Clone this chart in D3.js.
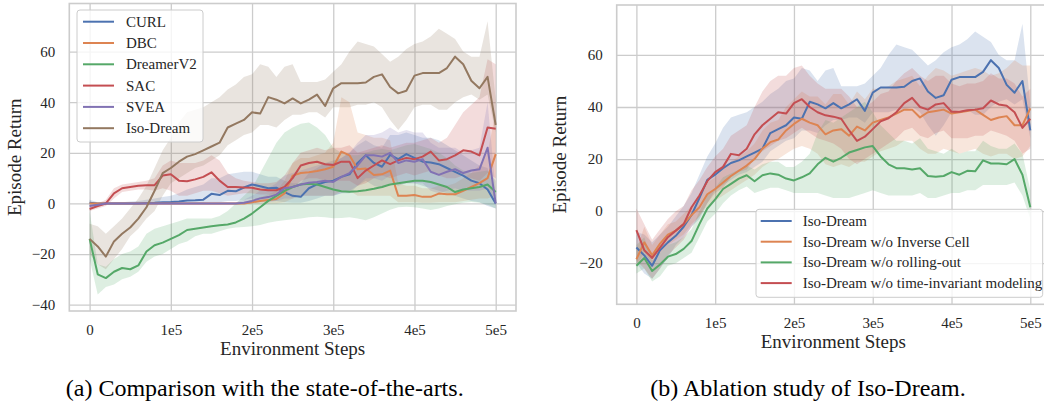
<!DOCTYPE html>
<html>
<head>
<meta charset="utf-8">
<script src="https://cdn.jsdelivr.net/npm/d3@7"></script>
<style>
  body { margin: 0; background: #fff; }
  text { font-family: "Liberation Serif", "Times New Roman", serif; fill: #262626; }
</style>
</head>
<body>
<svg id="chart" width="1044" height="410"></svg>
<script>
// x positions (thousands of environment steps)
const stepsK = [0,10,20,30,40,50,60,70,80,90,100,110,120,130,140,150,160,170,180,190,200,
  210,220,230,240,250,260,270,280,290,300,310,320,330,340,350,360,370,380,390,400,
  410,420,430,440,450,460,470,480,490,500];

const xTicks = [0, 100000, 200000, 300000, 400000, 500000];
const xTickLabels = ["0", "1e5", "2e5", "3e5", "4e5", "5e5"];

// ---- panel (a): comparison ----
const curlMean = [0.3,0,0,0,0,0,0,0.2,0.3,0.5, 0.6,0.8,1.2,1.3,1.5,3.8,3.3,5,4.8,6.3,
  7.5,6.8,6,6.2,4.5,3,2.6,6,7.5,8.5, 9,10.5,11.5,16,19,16,14.5,19.2,17.5,19.5,
  18,16.5,16.2,15.5,14,12.5,11,9,8,5.5, 0];
const curlLo = [-1,-0.5,-0.5,-0.5,-0.5,-0.5,-0.5,-0.5,-0.3,-0.2, -0.2,0,0,0,0.2,0.5,0.5,1,1,1.5,
  2,1.5,1,1,0.5,0.3,0.3,1,2,3, 3,4,4,7,9,7,6,8,7,8,
  8,7,6,5,4,3,2,1,0.5,-1, -2];
const curlHi = [1.5,0.5,0.5,0.5,0.5,0.8,1,1.5,2,2.5, 3,4,5.5,6.5,7.5,10,10,11.5,12,12.5,
  12.5,11.5,10.5,10.5,9,8,8,12,14,16, 17,18,20,23,25,23,22,27,27,28,
  27,26,26,25,23,21,19,17,15,14, 3];

const dbcMean = [0,0,0,0,0,0,0,0,0,0, 0,0,0,0,0,0,0,0,0,0,
  0.5,1,1.4,1.8,4,11,12,12.3,12.8,13.5, 14.5,20.5,19,13.5,13.8,11.2,11.5,13,3,3,
  3.3,2.6,2.6,3.9,3.6,3.6,5,6.5,8,10, 19.5];
const dbcLo = [-0.3,-0.3,-0.3,-0.3,-0.3,-0.3,-0.3,-0.3,-0.3,-0.3, -0.3,-0.3,-0.3,-0.3,-0.3,-0.3,-0.3,-0.3,-0.3,-0.3,
  0,0,0,0,0.5,2,3,3,3,3, 3,5,5,3,3,3,3,3,0.5,0.5,
  0.5,0.3,0.3,0.5,0.5,0.5,1,1.5,2,2, 3];
const dbcHi = [0.3,0.3,0.3,0.3,0.3,0.3,0.3,0.3,0.3,0.3, 0.3,0.3,0.3,0.3,0.3,0.3,0.3,0.3,0.3,0.3,
  1.5,2.5,3.5,5,9,16,18,18,19,20, 24,42,40,28,27,26,26,25,8,7,
  7,6,6,7,7,8,10,12,15,20, 36];

const dreamerMean = [-14,-28,-29.5,-27,-25.5,-26,-24.5,-19,-16.5,-15.5, -14,-12.5,-10.5,-10,-9.5,-9,-8.6,-8.3,-7.5,-6,
  -4,-1.5,1,3,5,6.5,7.5,7.8,7.5,6.5, 5.5,4.8,4.6,4.8,5.2,5.8,6.5,7.5,8,8.5,
  9,9,8.5,7.5,6.5,4.5,5.5,6,6.5,7.5, 4.5];
const dreamerLo = [-22,-36,-33,-32,-30,-29,-27,-23,-21,-20, -18,-16,-15,-13,-12,-12,-11,-10,-9.5,-9.3,
  -9,-8.5,-7.6,-7,-6.6,-6.2,-6,-5.5,-5.3,-5.5, -5.9,-5.8,-5.5,-6,-6.6,-5.5,-4,-2.5,-1.5,-1.3,
  -1.5,-2,-2.6,-2,-1,-0.3,0.3,0.6,0.3,-0.5, -2];
const dreamerHi = [-3,-24,-25,-22,-20,-19,-17,-12,-10,-9, -8,-7,-6,-6,-6,-6,-5,-3,0,3,
  6,12,18,24,28,30,31.5,32,30,27, 22,20,19,19,20,21,21.5,21,22,23,
  23.5,22.5,21.5,20,18,15,13,12,12.5,13, 9];

const sacMean = [-2.2,-1,0,4,6,6.5,7,7.2,7.2,11, 11.5,9,8.8,9.5,10.5,12.3,9,6.5,6.5,6.3,
  6.2,5.5,5.2,5.2,6.5,10,15,16,16.5,15.5, 15.2,16.5,16.5,10,13,15,17,15.5,17,18,
  17.5,18.5,20.5,17,17.5,19,21,20.5,19,30, 29.5];
const sacLo = [-3,-2,-1,2,4.5,5,5.5,5.5,5,6, 5,3,3,4,5,5,4,3,3.5,4,
  4,3.5,3.5,3.5,4,6,9,10,10,9, 9,9,9,7,8,10,11,10,11,12,
  11,12,13,11,10,10,11,10,9,12, 10];
const sacHi = [-1.5,0,1.5,6,7.5,8,8.5,9,10,15, 17,16,16,16,17,19,17,12,10,9,
  8.5,8,8,8.5,11,16,20,21,22,21, 22,22,23,20,21,22,23,22,23,24,
  24,25,26,24,26,31,36,39,42,57, 55];

const sveaMean = [-1,-0.5,0,0,0,0,0,0,0,0, 0,0,0,0,0,0,0,0,0,0.3,
  1,2,2.5,3.5,6,6.5,7.5,8.2,8.5,9, 8.5,10.5,12,15,19,19,18.5,20,16,17,
  16.5,17.5,12.5,11.3,12.5,13.5,12,13,13.5,22, 0];
const sveaLo = [-1.5,-1,-0.5,-0.5,-0.5,-0.5,-0.5,-0.5,-0.5,-0.5, -0.5,-0.5,-0.5,-0.5,-0.5,-0.5,-0.5,-0.5,-0.5,0,
  0,0.5,0.5,1,2,2,3,3,3,3, 3,4,5,7,10,10,9,11,8,8,
  8,8,5,4,5,6,5,5,5,6, -1];
const sveaHi = [-0.5,0,0.5,0.5,0.5,0.5,0.5,0.5,0.5,0.5, 0.5,0.5,0.5,0.5,0.5,0.5,0.5,0.5,0.5,1.5,
  3,5,6,8,11,12,13,14,15,16, 16,18,20,24,27,27,28,30,28,29,
  28,28,24,22,22,22,20,21,22,40, 5];

// Iso-Dream (same run in both panels)
const isoMean = [-14,-17,-21,-15,-12,-9.5,-6,-1.5,5,12, 14,16.5,18.5,19.5,21,22.5,24,30,31.5,33,
  36,35.5,42,41,39.5,41.5,39.5,41,43,38.5, 45.5,47.5,47.5,47.5,47.8,50,51,46,43.5,44.5,
  50.5,51.5,51.5,51.5,53.5,58,55,48.5,45.5,50, 31];
const isoLo = [-20,-24,-26,-22,-18,-13,-10,-6,-3,3, 8,10,12,14,15,17,19,23,25,27,
  28,31,31,30,33,35,35,36,36,34, 38,38,38,39,39,40,38,33,29,33,
  38,39,39,37,37,40,42,43,41,43, 28];
const isoHi = [-8,-9,-12,-9,-6,-2,2,7,14,21, 26,32,36,37,38,40,42,45,47,50,
  51,55,54,50,54,55,48,48,48,49, 52,55,60,64,63,62,59,56,58,61,
  63,64,66,69,67,65,60,58,58,72, 41];

// ---- panel (b): ablation ----
const noInvMean = [-18.5,-12,-17,-12.5,-9,-7.5,-5,-1.5,1.5,6.5, 8.5,11,13.5,15.5,17.5,20,24,26.5,27.5,31,
  33.5,35.5,34,33,29.5,31,31.5,29,32.5,31, 34,35,36,37.5,39,39,36,38,38.5,39,
  37.5,38,38.5,39,37,35,36,36.5,33,33, 39.5];
const noInvLo = [-21,-16,-20,-16,-13,-11,-9,-5,-2,2, 4,6,8,10,12,14,17,19,20,22,
  24,25,24,22,18,17,18,17,19,19, 21,23,24,25,27,27,24,22,22,24,
  23,22,23,24,22,21,22,22,20,21, 25];
const noInvHi = [-15,-6,-13,-9,-5,-4,-1,2,5,11, 13,16,19,21,23,26,31,34,35,40,
  43,46,44,44,41,45,45,41,46,43, 47,47,48,50,51,52,48,52,55,54,
  52,53,54,55,54,52,53,55,58,56, 56];

const noRollMean = [-21,-18,-23,-20.5,-17.5,-16.5,-14.5,-11.5,-5,1, 4.5,8.5,10.5,12.5,13.8,11.5,13.8,14.5,14,12.5,
  11.8,13,14.5,18,20.5,19,20.5,22.5,23.5,24.5, 25,21,18,16.5,16.5,16,16.5,13.5,13.2,13.5,
  15,14,15.5,15.3,19.5,18.3,18.3,18,20,14, 1.5];
const noRollLo = [-24,-22,-27,-25,-21,-20,-18,-16,-10,-4, -1,3,6,8,9.5,7,8,9,9,8,
  7,7,7,7,6,5,5,5,6,7, 8,7,6,6,6,6,7,5,5,6,
  7,7,8,8,10,10,10,10,11,6, -3];
const noRollHi = [-13,-10,-19,-16,-13,-12,-10,-7,0,6, 9,13,14.5,16,17.5,16,18,19,19,17,
  17,19,22,30,35,34,36,38,40,42, 38,33,30,27,27,26,28,24,23,22,
  24,22,23,23,27,25,24,24,26,22, 8];

const noTimeMean = [-7.3,-15,-18,-14,-10,-7.5,-5,1.5,6,11.5, 15,17,22,21.5,24,29.5,33,35.5,38,37.5,
  41.5,43,40,38,36.8,36.3,35.5,31,27,28.6, 31.5,34.5,35.7,38,41.5,43.5,40,39,41,41.5,
  38.2,38.2,38.8,39,39.5,42.5,41,40.5,38,32, 35.5];
const noTimeLo = [-19,-22,-26,-22,-17,-14,-11,-6,-2,3, 7,9,13,15,16,20,23,25,27,28,
  30,32,30,28,27,26,24,20,18,20, 22,24,26,28,31,32,29,28,30,31,
  28,28,28,29,29,31,30,29,27,22, 24];
const noTimeHi = [1,-5,-11,-7,-3,0,2,8,12,17, 21,24,29,31,33,40,46,50,52,52,
  55,56,52,49,47,47,47,44,40,40, 42,45,46,50,53,55,52,50,52,52,
  49,48,49,49,50,53,51,51,49,44, 47];

// seaborn "deep" palette
const C = { blue: "#4c72b0", orange: "#dd8452", green: "#55a868", red: "#c44e52", purple: "#8172b3", brown: "#937860" };

const panels = [
  {
    left: 69.3, right: 516, top: 3.5, bottom: 311,
    yDomain: [-42.5, 79], yTicks: [-40, -20, 0, 20, 40, 60],
    ylabelX: 21, caption: "(a) Comparison with the state-of-the-arts.", capX: 264.7,
    legend: { x: 77, y: 10, w: 126, h: 132, firstY: 21.7, row: 21.3, lineX: 83, textX: 126 },
    series: [
      { name: "CURL", color: C.blue, mean: curlMean, lo: curlLo, hi: curlHi },
      { name: "DBC", color: C.orange, mean: dbcMean, lo: dbcLo, hi: dbcHi },
      { name: "DreamerV2", color: C.green, mean: dreamerMean, lo: dreamerLo, hi: dreamerHi },
      { name: "SAC", color: C.red, mean: sacMean, lo: sacLo, hi: sacHi },
      { name: "SVEA", color: C.purple, mean: sveaMean, lo: sveaLo, hi: sveaHi },
      { name: "Iso-Dream", color: C.brown, mean: isoMean, lo: isoLo, hi: isoHi }
    ]
  },
  {
    left: 616.7, right: 1050, top: 5, bottom: 304.3,
    yDomain: [-35.8, 79.2], yTicks: [-20, 0, 20, 40, 60],
    ylabelX: 566, caption: "(b) Ablation study of Iso-Dream.", capX: 808,
    legend: { x: 756, y: 209.3, w: 286.7, h: 88, firstY: 221, row: 20.7, lineX: 760.7, textX: 802.7 },
    series: [
      { name: "Iso-Dream", color: C.blue, mean: isoMean, lo: isoLo, hi: isoHi },
      { name: "Iso-Dream w/o Inverse Cell", color: C.orange, mean: noInvMean, lo: noInvLo, hi: noInvHi },
      { name: "Iso-Dream w/o rolling-out", color: C.green, mean: noRollMean, lo: noRollLo, hi: noRollHi },
      { name: "Iso-Dream w/o time-invariant modeling", color: C.red, mean: noTimeMean, lo: noTimeLo, hi: noTimeHi }
    ]
  }
];

const svg = d3.select("#chart");
const gridColor = "#cccccc";

panels.forEach(function(p, pi) {
  const x = d3.scaleLinear().domain([-25000, 525000]).range([p.left, p.right]);
  const y = d3.scaleLinear().domain(p.yDomain).range([p.bottom, p.top]);
  const w = p.right - p.left, h = p.bottom - p.top;

  const g = svg.append("g");

  // grid + tick labels
  const xAxis = g.append("g")
    .attr("transform", "translate(0," + p.bottom + ")")
    .call(d3.axisBottom(x).tickValues(xTicks).tickSize(-h).tickPadding(13.5)
      .tickFormat(function(d, i) { return xTickLabels[i]; }));
  const yAxis = g.append("g")
    .attr("transform", "translate(" + p.left + ",0)")
    .call(d3.axisLeft(y).tickValues(p.yTicks).tickSize(-w).tickPadding(14));
  [xAxis, yAxis].forEach(function(a) {
    a.select(".domain").remove();
    a.selectAll("line").attr("stroke", gridColor).attr("stroke-width", 1.3);
    a.selectAll("text").style("font-size", "15px").attr("fill", "#262626")
      .style("font-family", "'Liberation Serif', 'Times New Roman', serif");
  });

  // frame
  g.append("rect")
    .attr("x", p.left).attr("y", p.top).attr("width", w).attr("height", h)
    .attr("fill", "none").attr("stroke", gridColor).attr("stroke-width", 1.6);

  // clip
  const clipId = "clip" + pi;
  svg.append("clipPath").attr("id", clipId).append("rect")
    .attr("x", p.left).attr("y", p.top).attr("width", w).attr("height", h);
  const plot = g.append("g").attr("clip-path", "url(#" + clipId + ")");

  const area = d3.area()
    .x(function(d, i) { return x(stepsK[i] * 1000); })
    .y0(function(d) { return y(d[0]); })
    .y1(function(d) { return y(d[1]); });
  const line = d3.line()
    .x(function(d, i) { return x(stepsK[i] * 1000); })
    .y(function(d) { return y(d); });

  // bands below lines (matplotlib zorder)
  p.series.forEach(function(s) {
    plot.append("path")
      .datum(s.lo.map(function(v, i) { return [v, s.hi[i]]; }))
      .attr("d", area)
      .attr("fill", s.color).attr("fill-opacity", 0.2).attr("stroke", "none");
  });
  p.series.forEach(function(s) {
    plot.append("path")
      .datum(s.mean)
      .attr("d", line)
      .attr("fill", "none").attr("stroke", s.color).attr("stroke-width", 2)
      .attr("stroke-linejoin", "round");
  });

  // legend
  const L = p.legend;
  const lg = g.append("g");
  lg.append("rect")
    .attr("x", L.x).attr("y", L.y).attr("width", L.w).attr("height", L.h)
    .attr("rx", 3).attr("fill", "#fff").attr("fill-opacity", 0.8)
    .attr("stroke", gridColor).attr("stroke-width", 1);
  p.series.forEach(function(s, i) {
    const cy = L.firstY + i * L.row;
    lg.append("line")
      .attr("x1", L.lineX).attr("x2", L.lineX + 31).attr("y1", cy).attr("y2", cy)
      .attr("stroke", s.color).attr("stroke-width", 2);
    lg.append("text")
      .attr("x", L.textX).attr("y", cy).attr("dy", "0.33em")
      .style("font-size", "15px").text(s.name);
  });

  // axis labels
  g.append("text")
    .attr("x", (p.left + p.right) / 2).attr("y", p.bottom + 44)
    .attr("text-anchor", "middle").style("font-size", "19px")
    .text("Environment Steps");
  g.append("text")
    .attr("transform", "translate(" + p.ylabelX + "," + ((p.top + p.bottom) / 2) + ") rotate(-90)")
    .attr("text-anchor", "middle").style("font-size", "19px")
    .text("Episode Return");

  // caption
  svg.append("text")
    .attr("x", p.capX).attr("y", 396)
    .attr("text-anchor", "middle").style("font-size", "24px").style("fill", "#000")
    .text(p.caption);
});
</script>
</body>
</html>
